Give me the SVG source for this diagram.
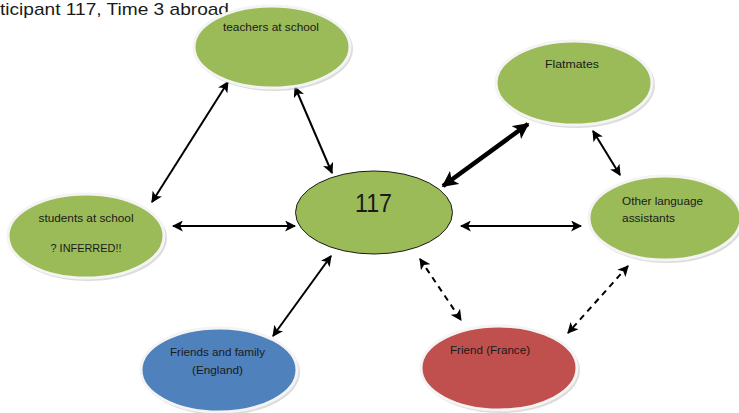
<svg xmlns="http://www.w3.org/2000/svg" width="739" height="413" viewBox="0 0 739 413">
  <defs>
    <style>
      .shadow { fill: #bfbfbf; opacity: 0.55; }
      .rim { stroke: #f4f4f4; stroke-width: 3; }
      .green { fill: #9BBB59; }
      .blue { fill: #4F81BD; }
      .red { fill: #C0504D; }
      .lbl { font-family: "Liberation Sans", Arial, sans-serif; font-size: 11px; fill: #1a1a1a; }
      .title { font-family: "Liberation Sans", Arial, sans-serif; font-size: 17px; fill: #1a1a1a; }
      .conn { stroke: #000; stroke-width: 2; fill: none; }
      .thick { stroke: #000; stroke-width: 4.5; fill: none; }
      .dash { stroke: #000; stroke-width: 2; fill: none; stroke-dasharray: 6 5; }
    </style>
    <marker id="ah" viewBox="0 0 10 10" refX="9" refY="5" markerWidth="5.5" markerHeight="5.5" orient="auto-start-reverse" markerUnits="strokeWidth">
      <path d="M0,0 L10,5 L0,10 L2.5,5 Z" fill="#000"/>
    </marker>
    <marker id="ahT" viewBox="0 0 10 10" refX="9" refY="5" markerWidth="3.6" markerHeight="3.6" orient="auto-start-reverse" markerUnits="strokeWidth">
      <path d="M0,0 L10,5 L0,10 L2.5,5 Z" fill="#000"/>
    </marker>
  </defs>
  <rect width="739" height="413" fill="#ffffff"/>

  <text class="title" x="0" y="14.5" textLength="229" lengthAdjust="spacingAndGlyphs">ticipant 117, Time 3 abroad</text>

  <g id="connectors">
    <line class="conn" x1="228" y1="82" x2="152" y2="202" marker-start="url(#ah)" marker-end="url(#ah)"/>
    <line class="conn" x1="295" y1="87" x2="332" y2="173" marker-start="url(#ah)" marker-end="url(#ah)"/>
    <line class="conn" x1="173" y1="226" x2="295" y2="226" marker-start="url(#ah)" marker-end="url(#ah)"/>
    <line class="thick" x1="443" y1="186" x2="528" y2="124" marker-start="url(#ahT)" marker-end="url(#ahT)"/>
    <line class="conn" x1="593" y1="131" x2="620" y2="175" marker-start="url(#ah)" marker-end="url(#ah)"/>
    <line class="conn" x1="461" y1="226" x2="581" y2="226" marker-start="url(#ah)" marker-end="url(#ah)"/>
    <line class="conn" x1="331" y1="256" x2="273" y2="336" marker-start="url(#ah)" marker-end="url(#ah)"/>
    <line class="dash" x1="420" y1="259" x2="461" y2="320" marker-start="url(#ah)" marker-end="url(#ah)"/>
    <line class="dash" x1="628" y1="266" x2="568" y2="333" marker-start="url(#ah)" marker-end="url(#ah)"/>
  </g>

  <g id="teachers">
    <ellipse class="shadow" cx="274" cy="49" rx="79" ry="42"/>
    <ellipse class="green rim" cx="272" cy="47" rx="78" ry="41"/>
    <text class="lbl" x="271" y="31" text-anchor="middle" textLength="96" lengthAdjust="spacingAndGlyphs">teachers at school</text>
  </g>

  <g id="flatmates">
    <ellipse class="shadow" cx="576" cy="85" rx="79" ry="43"/>
    <ellipse class="green rim" cx="574" cy="83" rx="78" ry="42"/>
    <text class="lbl" x="572" y="68" text-anchor="middle" textLength="54" lengthAdjust="spacingAndGlyphs">Flatmates</text>
  </g>

  <g id="students">
    <ellipse class="shadow" cx="88" cy="238" rx="79" ry="43"/>
    <ellipse class="green rim" cx="86" cy="236" rx="78" ry="42"/>
    <text class="lbl" x="86" y="222" text-anchor="middle" textLength="95" lengthAdjust="spacingAndGlyphs">students at school</text>
    <text class="lbl" x="86" y="252" text-anchor="middle" textLength="71" lengthAdjust="spacingAndGlyphs">? INFERRED!!</text>
  </g>

  <g id="n117">
    <ellipse class="green" cx="374" cy="212.5" rx="78.5" ry="41.5" stroke="#1a1a1a" stroke-width="1"/>
    <text x="373.5" y="212" text-anchor="middle" font-family="'Liberation Sans', Arial, sans-serif" font-size="25" fill="#1a1a1a" textLength="37" lengthAdjust="spacingAndGlyphs">117</text>
  </g>

  <g id="other">
    <ellipse class="shadow" cx="667" cy="220" rx="77" ry="43"/>
    <ellipse class="green rim" cx="665" cy="218" rx="76" ry="42"/>
    <text class="lbl" x="622" y="205" textLength="81" lengthAdjust="spacingAndGlyphs">Other language</text>
    <text class="lbl" x="622" y="222" textLength="53" lengthAdjust="spacingAndGlyphs">assistants</text>
  </g>

  <g id="england">
    <ellipse class="shadow" cx="221" cy="372" rx="79" ry="43"/>
    <ellipse class="blue rim" cx="219" cy="370" rx="78" ry="42"/>
    <text class="lbl" x="217.5" y="356" text-anchor="middle" textLength="95" lengthAdjust="spacingAndGlyphs">Friends and family</text>
    <text class="lbl" x="217.5" y="374" text-anchor="middle" textLength="51" lengthAdjust="spacingAndGlyphs">(England)</text>
  </g>

  <g id="france">
    <ellipse class="shadow" cx="501" cy="370" rx="79" ry="43"/>
    <ellipse class="red rim" cx="499" cy="368" rx="78" ry="42"/>
    <text class="lbl" x="490" y="354" text-anchor="middle" textLength="80" lengthAdjust="spacingAndGlyphs">Friend (France)</text>
  </g>
</svg>
